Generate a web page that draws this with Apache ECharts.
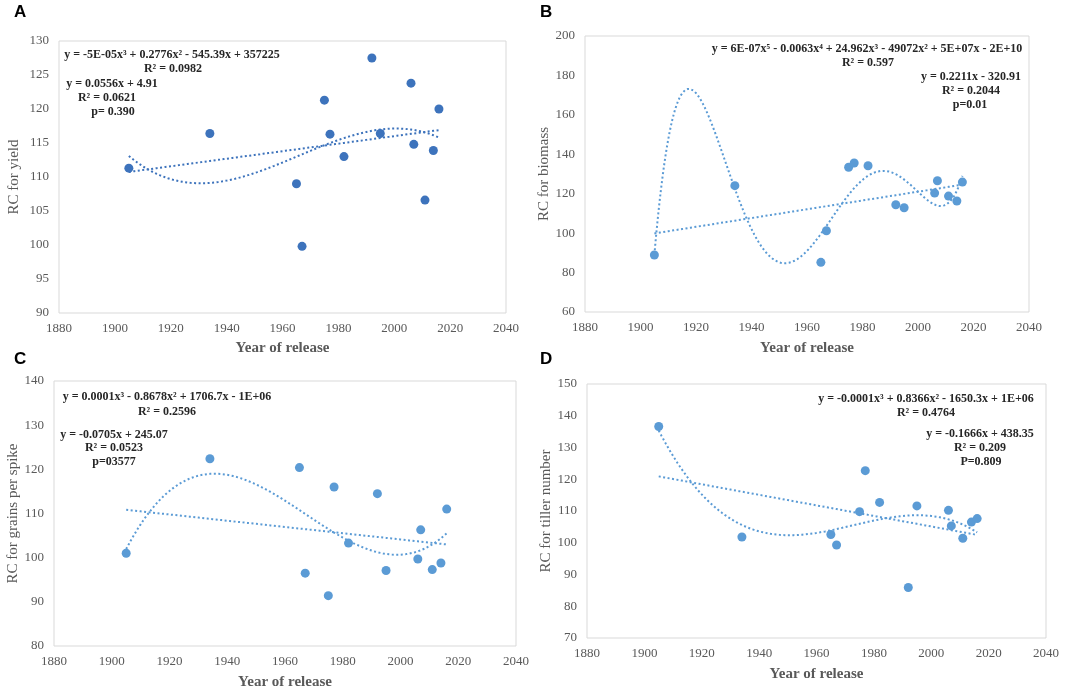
<!DOCTYPE html>
<html>
<head>
<meta charset="utf-8">
<script src="https://cdn.jsdelivr.net/npm/echarts@6/dist/echarts.min.js"></script>
<style>
html,body{margin:0;padding:0;background:#fff;}
#chart{width:1084px;height:691px;}
</style>
</head>
<body>
<div id="chart"></div>
<script>
// ---- Data ----
const years = [1905, 1934, 1965, 1967, 1975, 1977, 1982, 1992, 1995, 2006, 2007, 2011, 2014, 2016];
const rcYield   = [111.3, 116.4, 109.0, 99.8, 121.3, 116.3, 113.0, 127.5, 116.4, 123.8, 114.8, 106.6, 113.9, 120.0];
const rcBiomass = [88.9, 124.1, 85.2, 101.2, 133.4, 135.6, 134.2, 114.4, 112.9, 120.3, 126.6, 118.8, 116.3, 125.9];
const rcGrains  = [101.0, 122.4, 120.4, 96.5, 91.4, 116.0, 103.3, 114.5, 97.1, 99.7, 106.3, 97.3, 98.8, 111.0];
const rcTiller  = [136.6, 101.8, 102.6, 99.3, 109.8, 122.7, 112.7, 85.9, 111.6, 110.2, 105.3, 101.4, 106.5, 107.6];

const panelLetters = ['A', 'B', 'C', 'D'];
const yTitles = ['RC for yield', 'RC for biomass', 'RC for grains per spike', 'RC for tiller number'];
const xTitle = 'Year of release';
const polyDegrees = [3, 5, 3, 3];
const eqTexts = [
  ['y = -5E-05x³ + 0.2776x² - 545.39x + 357225', 'R² = 0.0982', 'y = 0.0556x + 4.91', 'R² = 0.0621', 'p= 0.390'],
  ['y = 6E-07x⁵ - 0.0063x⁴ + 24.962x³ - 49072x² + 5E+07x - 2E+10', 'R² = 0.597', 'y = 0.2211x - 320.91', 'R² = 0.2044', 'p=0.01'],
  ['y = 0.0001x³ - 0.8678x² + 1706.7x - 1E+06', 'R² = 0.2596', 'y = -0.0705x + 245.07', 'R² = 0.0523', 'p=03577'],
  ['y = -0.0001x³ + 0.8366x² - 1650.3x + 1E+06', 'R² = 0.4764', 'y = -0.1666x + 438.35', 'R² = 0.209', 'P=0.809']
];
const yMins = [90, 60, 80, 70];
const yMaxs = [130, 200, 140, 150];
const yIntervals = [5, 20, 10, 10];

// ---- least-squares polynomial trendline (as in the spreadsheet trendline) ----
function polyfit(xs, ys, deg) {
  const t = xs.map(x => (x - 1960) / 50);
  const n = deg + 1;
  const A = [], b = [];
  for (let i = 0; i < n; i++) {
    A.push([]);
    for (let j = 0; j < n; j++) {
      let s = 0; t.forEach(v => { s += Math.pow(v, i + j); }); A[i].push(s);
    }
    let s = 0; t.forEach((v, k) => { s += ys[k] * Math.pow(v, i); }); b.push(s);
  }
  for (let c = 0; c < n; c++) {
    let p = c;
    for (let r = c + 1; r < n; r++) if (Math.abs(A[r][c]) > Math.abs(A[p][c])) p = r;
    [A[c], A[p]] = [A[p], A[c]]; [b[c], b[p]] = [b[p], b[c]];
    for (let r = c + 1; r < n; r++) {
      const f = A[r][c] / A[c][c];
      for (let k = c; k < n; k++) A[r][k] -= f * A[c][k];
      b[r] -= f * b[c];
    }
  }
  const coef = new Array(n).fill(0);
  for (let i = n - 1; i >= 0; i--) {
    let s = b[i];
    for (let k = i + 1; k < n; k++) s -= A[i][k] * coef[k];
    coef[i] = s / A[i][i];
  }
  return x => { const v = (x - 1960) / 50; let y = 0; coef.forEach((c, i) => { y += c * Math.pow(v, i); }); return y; };
}
function trend(xs, ys, deg, step) {
  const f = polyfit(xs, ys, deg);
  const out = [];
  const x0 = Math.min(...xs), x1 = Math.max(...xs);
  for (let x = x0; x <= x1 + 1e-9; x += step) out.push([x, f(x)]);
  return out;
}

const seriesData = [rcYield, rcBiomass, rcGrains, rcTiller];
const grids = [
  {left: 59, top: 41, width: 447, height: 272},
  {left: 585, top: 36, width: 444, height: 276},
  {left: 54, top: 381, width: 462, height: 267},
  {left: 587, top: 384, width: 459, height: 254}
];
const markerColors = ['#3D73BC', '#5B9BD5', '#5B9BD5', '#5B9BD5'];
const yNameGaps = [37, 29, 33, 31];
const xNameGaps = [28, 29, 29, 29];

const serif = 'Liberation Serif, Times New Roman, serif';
const option = {
  backgroundColor: '#fff',
  animation: false,
  grid: grids.map(g => Object.assign({show: true, borderColor: '#D9D9D9', borderWidth: 1, backgroundColor: '#fff'}, g)),
  xAxis: grids.map((g, i) => ({
    gridIndex: i, type: 'value', min: 1880, max: 2040, interval: 20,
    name: xTitle, nameLocation: 'middle', nameGap: xNameGaps[i],
    nameTextStyle: {fontFamily: serif, fontWeight: 'bold', fontSize: 15, color: '#595959'},
    axisLine: {show: false}, axisTick: {show: false}, splitLine: {show: false},
    axisLabel: {fontFamily: serif, fontSize: 13, color: '#595959', margin: 9, formatter: v => String(v)}
  })),
  yAxis: grids.map((g, i) => ({
    gridIndex: i, type: 'value', min: yMins[i], max: yMaxs[i], interval: yIntervals[i],
    name: yTitles[i], nameLocation: 'middle', nameGap: yNameGaps[i],
    nameTextStyle: {fontFamily: serif, fontSize: 15, color: '#595959'},
    axisLine: {show: false}, axisTick: {show: false}, splitLine: {show: false},
    axisLabel: {fontFamily: serif, fontSize: 13, color: '#595959', margin: 10, formatter: v => String(v)}
  })),
  series: [],
  graphic: []
};

seriesData.forEach((ys, i) => {
  const color = markerColors[i];
  option.series.push({
    type: 'line', xAxisIndex: i, yAxisIndex: i, data: trend(years, ys, 1, 1),
    showSymbol: false, symbol: 'none', z: 2,
    lineStyle: {color: color, width: 2, type: [2, 2.5]}
  });
  option.series.push({
    type: 'line', xAxisIndex: i, yAxisIndex: i, data: trend(years, ys, polyDegrees[i], 0.5),
    showSymbol: false, symbol: 'none', smooth: false, z: 2,
    lineStyle: {color: color, width: 2, type: [2, 2.5]}
  });
  option.series.push({
    type: 'scatter', xAxisIndex: i, yAxisIndex: i, data: years.map((y, k) => [y, ys[k]]),
    symbolSize: 9, z: 3, itemStyle: {color: color, opacity: 1}
  });
});

// Panel letters
const letterPos = [[20, 13], [546, 13], [20, 360], [546, 360]];
panelLetters.forEach((L, i) => {
  option.graphic.push({type: 'text', left: letterPos[i][0] - 6, top: letterPos[i][1] - 9,
    style: {text: L, font: 'bold 17px Liberation Sans, Arial, sans-serif', fill: '#000'}});
});

// Trendline equation labels: [cx, cy] for each of 5 lines
const eqPos = [
  [[172, 55], [173, 69], [112, 84], [107, 98], [113, 112]],
  [[867, 49], [868, 63], [971, 77], [971, 91], [970, 105]],
  [[167, 397], [167, 412], [114, 435], [114, 448], [114, 462]],
  [[926, 399], [926, 413], [980, 434], [980, 448], [981, 462]]
];
eqTexts.forEach((lines, i) => {
  lines.forEach((txt, k) => {
    option.graphic.push({type: 'text', x: eqPos[i][k][0], y: eqPos[i][k][1], z: 10,
      style: {text: txt, font: 'bold 12px Liberation Serif, Times New Roman, serif', fill: '#262626',
        textAlign: 'center', textVerticalAlign: 'middle'}});
  });
});

const chart = echarts.init(document.getElementById('chart'), null, {renderer: 'canvas'});
chart.setOption(option);
</script>
</body>
</html>
